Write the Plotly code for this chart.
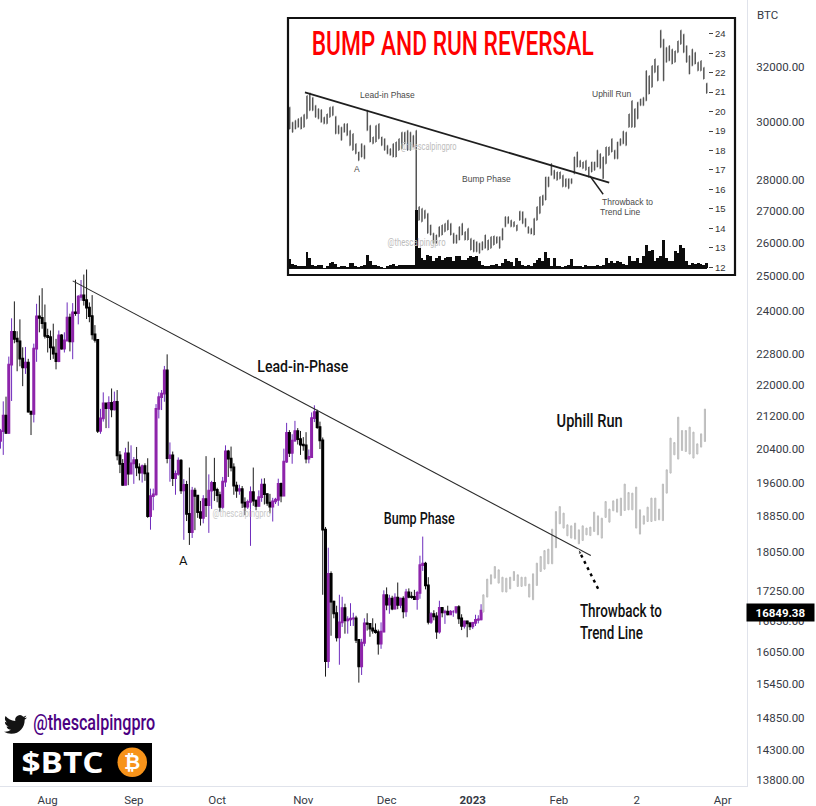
import base64
import json
import numpy as np
import pandas as pd
import plotly.graph_objects as go

# ---- BTC daily candles, mid-July 2022 to 4 January 2023 ----
closes = [
    20825, 21209, 20785, 22525, 23410, 23223, 23153, 22684, 22451, 22579, 21310, 21254, 22952, 23843, 23804, 23656, 23303,
    23268, 22987, 22818, 22622, 23312, 22954, 23175, 23810, 23149, 23954, 23935, 24403, 24441, 24305, 24094, 23854, 23342, 23191, 20834, 21140, 21516, 21399, 21529, 21368, 21559, 20241, 20037, 19550, 20285, 19811, 20049,
    20127, 19953, 19832, 19986, 19812, 18837, 19290, 19329, 21381, 21680, 21769, 22370, 20173, 20241, 19701, 19803, 20113, 19419, 19544, 18890, 18487, 19413, 19297, 18930, 18802, 19222, 19084, 19413, 19590, 19431,
    19312, 19044, 19623, 20336, 20160, 19955, 19531, 19417, 19446, 19141, 19051, 19157, 19382, 19185, 19067, 19268, 19550, 19334, 19139, 19053, 19172, 19207, 19567, 19300, 20090, 20780, 20300, 20595, 20825, 20630, 20495,
    20480, 20160, 20200, 21150, 21300, 20925, 20600, 18540, 15880, 17600, 17030, 16800, 16330, 16620, 16900, 16660, 16680, 16695, 16700, 16280, 15780, 16225, 16600, 16590, 16500, 16460, 16430, 16210, 16440, 17160,
    16970, 17090, 16890, 17110, 16965, 17090, 16840, 17220, 17130, 17125, 17085, 17210, 17780, 17810, 17360, 16630, 16780, 16740, 16440, 16905, 16820, 16830, 16780, 16830, 16830, 16920, 16700, 16550, 16640, 16600, 16540,
    16610, 16670, 16680, 16849.38,
]
highs = [
    20880, 21570, 21690, 22740, 23790, 24270, 23430, 23760, 22990, 23000, 22680, 21330, 23090, 24200, 24440, 24650, 24180,
    23500, 23450, 23640, 23220, 23450, 23350, 23400, 24240, 23920, 24220, 24900, 24450, 24890, 25050, 25200, 24240, 24450, 23600, 23200, 21380, 21800, 21520, 21700, 21900, 21820, 21860, 20340, 20150, 20420, 20570, 20480,
    20200, 20440, 20050, 20020, 20050, 20170, 19460, 19460, 21500, 21800, 21860, 22490, 22800, 20550, 20330, 19880, 20190, 20150, 19680, 19640, 19950, 19500, 19480, 19300, 19180, 19310, 20220, 19790, 19640, 20180,
    19480, 19390, 19730, 20480, 20370, 20450, 20050, 19620, 19550, 19520, 19260, 19210, 19510, 19950, 19210, 19420, 19690, 19700, 19350, 19340, 19250, 19250, 19690, 19600, 20400, 21030, 20850, 20750, 21080, 20900, 20830,
    20680, 20800, 20380, 21290, 21470, 21360, 21060, 20670, 18600, 18150, 17650, 17050, 16950, 17170, 17130, 16990, 16740, 17000, 16810, 16750, 16290, 16300, 16700, 16800, 16580, 16700, 16600, 16480, 16620, 17260,
    17320, 17170, 17150, 17200, 17420, 17110, 17140, 17290, 17300, 17230, 17270, 17250, 17980, 18390, 17850, 17530, 16820, 16860, 16820, 17050, 16900, 16870, 16950, 16860, 16860, 16930, 16960, 16780, 16650, 16650, 16630,
    16630, 16770, 16760, 16980,
]
lows = [
    20400, 20250, 20760, 20760, 21580, 23100, 22350, 22480, 21960, 22280, 21290, 20730, 21040, 22600, 23400, 23500, 23230,
    22850, 22650, 22680, 22400, 22590, 22930, 22850, 23160, 22880, 22670, 23860, 23620, 24290, 24150, 23770, 23680, 23200, 23120, 20780, 20760, 21060, 20900, 20900, 21170, 21340, 20120, 19820, 19530, 19550, 19540, 19800,
    19570, 19750, 19650, 19600, 19640, 18800, 18540, 18970, 19300, 21140, 21350, 21560, 20050, 19620, 19520, 19320, 19760, 19340, 18320, 18730, 18210, 18360, 18530, 18800, 18630, 18680, 18820, 18470, 19000, 19180,
    19150, 18930, 19000, 19500, 19730, 19860, 19320, 19250, 19320, 19020, 18860, 19000, 18190, 19070, 18970, 19060, 19160, 19100, 19070, 18900, 18720, 19110, 19070, 19150, 19300, 20060, 20200, 20040, 20570, 20500, 20250,
    20350, 20050, 20050, 20180, 21050, 20880, 20390, 17170, 15590, 15750, 16360, 16700, 16250, 15810, 16530, 16400, 16400, 16550, 16550, 16220, 15480, 15620, 16160, 16460, 16340, 16400, 16400, 16000, 16110, 16430,
    16860, 16790, 16860, 16880, 16880, 16900, 16700, 16730, 17100, 17090, 17070, 16870, 17090, 17660, 17280, 16580, 16590, 16660, 16300, 16400, 16720, 16590, 16760, 16780, 16730, 16790, 16590, 16470, 16500, 16330, 16470,
    16490, 16550, 16600, 16660,
]
first_open = 20590

# ---- Projected path: grey bars ahead of the last candle ----
proj_top = [
    17170, 17490, 17580, 17752, 17683, 17530, 17510, 17530, 17648, 17580, 17530, 17530, 17388, 17600, 17823, 17963, 18090, 18120, 18552, 18940,
    19053, 18906, 18647, 18625, 18684, 18537, 18625, 18575, 18597, 18928, 18845, 18794, 19167, 18996, 19182, 19221, 19244, 19565, 19372, 19357,
    19495, 18980, 18845, 19040, 19244, 19244, 18996, 19565, 19897, 20655, 20548, 21172, 20841, 20841, 20924, 20801, 20516, 20759, 21374,
]
proj_bottom = [
    16823, 17123, 17388, 17510, 17408, 17230, 17225, 17291, 17462, 17340, 17340, 17353, 17123, 17069, 17360, 17648, 17697, 17809, 17809, 18150,
    18670, 18575, 18407, 18357, 18335, 18234, 18305, 18428, 18412, 18500, 18428, 18357, 18810, 18706, 18958, 18928, 18852, 18965, 18980, 18980,
    18575, 18444, 18662, 18720, 18720, 18740, 18757, 18740, 19357, 19820, 20252, 20150, 20355, 20331, 20270, 20174, 20270, 20437, 20572,
]

# ---- Textbook pattern chart shown in the framed panel ----
textbook_high = [
    20.22, 19.45, 19.54, 19.63, 19.71, 19.85, 20.82, 20.94, 20.73, 20.31, 20.14, 20.09, 19.71, 19.88, 20.22, 20.26, 19.75, 19.28, 19.20, 19.37,
    19.37, 19.03, 18.86, 18.35, 17.92, 18.35, 18.26, 20.05, 19.28, 18.69, 19.28, 19.37, 18.69, 18.60, 18.26, 18.09, 18.35, 18.43, 18.60, 18.94,
    18.94, 19.03, 18.94, 18.77, 19.03, 15.11, 15.02, 14.93, 14.76, 14.17, 13.74, 13.65, 14.08, 14.17, 14.25, 14.42, 14.25, 13.74, 13.65, 14.08,
    14.25, 13.82, 13.99, 13.48, 13.40, 13.31, 13.23, 13.31, 13.65, 13.40, 13.57, 13.60, 13.57, 13.57, 13.99, 14.59, 14.59, 14.42, 14.34, 14.17,
    14.88, 14.85, 14.51, 14.08, 13.99, 14.51, 15.11, 15.62, 15.70, 16.64, 16.64, 17.32, 16.98, 16.90, 16.90, 16.73, 16.55, 16.55, 16.55, 17.66,
    17.92, 17.49, 17.41, 17.49, 17.15, 17.41, 17.41, 18.01, 17.83, 17.66, 18.18, 18.18, 18.60, 18.01, 18.43, 18.60, 18.99, 18.94, 19.88, 20.56,
    20.14, 20.48, 20.65, 20.73, 22.10, 21.84, 22.36, 22.70, 22.36, 24.18, 23.72, 23.29, 23.38, 23.21, 23.12, 23.63, 24.18, 23.98, 23.38, 22.87,
    23.21, 23.04, 22.53, 22.61, 22.27, 21.45,
]
textbook_low = [
    19.11, 18.94, 19.11, 19.20, 19.11, 19.20, 19.63, 20.05, 20.05, 19.71, 19.63, 19.45, 19.37, 19.37, 19.71, 19.80, 18.86, 18.86, 18.52, 18.94,
    18.77, 18.26, 18.01, 17.83, 17.49, 17.66, 17.58, 19.03, 18.43, 18.35, 18.43, 18.60, 18.26, 18.01, 17.83, 17.75, 17.66, 17.66, 18.01, 18.09,
    18.35, 18.01, 18.01, 18.18, 14.93, 14.42, 14.34, 14.51, 13.74, 13.65, 13.23, 13.23, 13.57, 13.65, 13.82, 13.91, 13.65, 13.23, 13.23, 13.40,
    13.65, 13.40, 13.40, 12.89, 12.80, 12.80, 12.72, 12.89, 12.97, 12.89, 12.97, 13.14, 13.23, 12.97, 13.40, 14.08, 14.25, 14.08, 14.08, 13.88,
    14.42, 14.25, 14.08, 13.74, 13.71, 13.65, 14.42, 14.76, 15.19, 15.45, 16.13, 16.73, 16.55, 16.47, 16.55, 16.13, 16.13, 16.04, 16.30, 16.81,
    17.15, 17.15, 17.07, 16.98, 16.64, 16.90, 16.98, 17.15, 17.07, 16.55, 17.32, 17.75, 17.92, 17.58, 17.58, 18.26, 18.35, 18.26, 19.20, 19.20,
    19.20, 19.63, 20.31, 20.31, 20.56, 20.90, 21.25, 22.01, 21.59, 23.29, 21.59, 22.53, 22.61, 22.44, 22.53, 23.04, 23.46, 23.04, 22.53, 21.93,
    22.36, 22.44, 22.10, 22.10, 21.67, 20.94,
]
textbook_volume = [
    9, 4, 3, 2, 2, 2, 16, 10, 3, 2, 3, 3, 0, 2, 5, 6, 4, 1, 2, 2,
    1, 5, 5, 2, 1, 2, 3, 13, 7, 3, 3, 2, 1, 0, 2, 3, 4, 2, 3, 3,
    3, 3, 3, 3, 58, 20, 10, 8, 13, 12, 7, 10, 12, 8, 10, 11, 11, 7, 12, 12,
    8, 8, 10, 12, 11, 12, 7, 3, 2, 2, 3, 3, 4, 2, 5, 9, 7, 6, 2, 10,
    7, 3, 2, 3, 2, 5, 8, 10, 7, 16, 10, 2, 10, 2, 2, 1, 2, 3, 9, 2,
    2, 2, 1, 3, 2, 2, 2, 3, 2, 3, 10, 5, 7, 5, 7, 6, 4, 3, 12, 7,
    7, 10, 5, 12, 23, 17, 18, 7, 10, 12, 28, 10, 7, 7, 17, 15, 23, 20, 7, 3,
    5, 4, 5, 4, 3, 5,
]
textbook_ticks = [24, 23, 22, 21, 20, 19, 18, 17, 16, 15, 14, 13, 12]

# ---- Axis labels ----
price_ticks = [32000, 30000, 28000, 27000, 26000, 25000, 24000, 22800, 22000, 21200, 20400,
               19600, 18850, 18050, 17250, 16650, 16050, 15450, 14850, 14300, 13800]
month_ticks = ["2022-08-01", "2022-09-01", "2022-10-01", "2022-11-01", "2022-12-01",
               "2023-01-01", "2023-02-01", "2023-03-01", "2023-04-01"]
month_labels = ["Aug", "Sep", "Oct", "Nov", "Dec", "<b>2023</b>", "Feb", "2", "Apr"]

# ---- Drawn lines on the two charts (date/price and session/price pairs) ----
trend_dates = ["2022-08-10 00:00", "2023-02-12 12:00"]
trend_prices = [24864, 17984]
throwback_dates = ["2023-02-15 03:00", "2023-02-07 22:00"]
throwback_prices = [17291, 18126]
textbook_trend_sessions = [5.3, 111.1]
textbook_trend_prices = [20.99, 16.35]
textbook_pointer_sessions = [104.4, 109.0]
textbook_pointer_prices = [16.69, 15.75]

W, H = 816, 806
PLOT_W, PLOT_H = 747, 786
HEADLINE = "Roboto, sans-serif"
SMALL = "Liberation Sans, sans-serif"
AXIS_FONT = dict(family="Roboto, sans-serif", size=11.5, color="#363A45")


def fx(px):
    return px / PLOT_W


def fy(py):
    return 1 - py / PLOT_H


def note(px, py, text, size, color="#111", family=HEADLINE, weight=500, **kw):
    return dict(x=fx(px), y=fy(py), xref="paper", yref="paper", text=text, showarrow=False,
                xanchor="center", yanchor="middle",
                font=dict(family=family, size=size, color=color, weight=weight), **kw)


dates = pd.date_range("2022-07-15", periods=len(closes), freq="D")
opens = [first_open] + closes[:-1]
body_top = np.maximum(opens, closes)
body_bottom = np.minimum(opens, closes)
proj_dates = pd.date_range("2023-01-04 20:00", periods=len(proj_top), freq="33h")
sessions = list(range(len(textbook_high)))

UP_WICK, UP_BODY = "#6F2DBD", "#8E24AA"
DOWN_WICK, DOWN_BODY = "#1A1A1A", "#000000"

fig = go.Figure()

# Wicks first, then a second pass that thickens just the candle bodies
fig.add_trace(go.Candlestick(
    x=dates, open=opens, high=highs, low=lows, close=closes,
    increasing=dict(line=dict(color=UP_WICK, width=1), fillcolor=UP_BODY),
    decreasing=dict(line=dict(color=DOWN_WICK, width=1), fillcolor=DOWN_BODY),
    whiskerwidth=0, showlegend=False, hoverinfo="skip",
))
fig.add_trace(go.Candlestick(
    x=dates, open=opens, high=body_top, low=body_bottom, close=closes,
    increasing=dict(line=dict(color=UP_BODY, width=1.8), fillcolor=UP_BODY),
    decreasing=dict(line=dict(color=DOWN_BODY, width=1.8), fillcolor=DOWN_BODY),
    whiskerwidth=0, showlegend=False, hoverinfo="skip",
))
fig.add_trace(go.Candlestick(
    x=proj_dates, open=proj_bottom, high=proj_top, low=proj_bottom, close=proj_top,
    increasing=dict(line=dict(color="#BDBDBD", width=1), fillcolor="#DADADA"),
    decreasing=dict(line=dict(color="#BDBDBD", width=1), fillcolor="#DADADA"),
    whiskerwidth=0, showlegend=False, hoverinfo="skip",
))
fig.add_trace(go.Scatter(
    x=trend_dates, y=trend_prices, mode="lines",
    line=dict(color="#2B2B2B", width=1.1), showlegend=False, hoverinfo="skip",
))
fig.add_trace(go.Scatter(
    x=throwback_dates, y=throwback_prices, mode="lines+markers",
    line=dict(color="#000000", width=2.4, dash="3px,4px"),
    marker=dict(symbol=["line-ew", "arrow"], size=[1, 6], angleref="previous", color="#000000"),
    showlegend=False, hoverinfo="skip",
))

# Framed textbook panel: bars, volume and its own trend lines
fig.add_trace(go.Ohlc(
    x=sessions, open=textbook_low, high=textbook_high, low=textbook_low, close=textbook_high,
    increasing=dict(line=dict(color="#555555", width=1.5)),
    decreasing=dict(line=dict(color="#555555", width=1.5)),
    tickwidth=0.2, xaxis="x2", yaxis="y2", showlegend=False, hoverinfo="skip",
))
fig.add_trace(go.Bar(
    x=sessions, y=textbook_volume, marker=dict(color="#0C0C0C", line=dict(width=0)), width=1,
    xaxis="x2", yaxis="y3", showlegend=False, hoverinfo="skip",
))
fig.add_trace(go.Scatter(
    x=textbook_trend_sessions, y=textbook_trend_prices, mode="lines",
    line=dict(color="#1F1F1F", width=1.8), xaxis="x2", yaxis="y2", showlegend=False, hoverinfo="skip",
))
fig.add_trace(go.Scatter(
    x=textbook_pointer_sessions, y=textbook_pointer_prices, mode="lines",
    line=dict(color="#1F1F1F", width=1.4), xaxis="x2", yaxis="y2", showlegend=False, hoverinfo="skip",
))

# Main time span and the log price window
px_per_day = 2.778
x_start = pd.Timestamp("2022-08-01") - pd.Timedelta(days=47.7 / px_per_day)
x_end = x_start + pd.Timedelta(days=PLOT_W / px_per_day)

bar_step = 2.876
panel_left, panel_axis, panel_right, panel_top, panel_bottom = 288, 708, 735, 18, 275

bird_svg = (
    '<svg xmlns="http://www.w3.org/2000/svg" viewBox="0 0 24 24"><path fill="#141414" d="M23.953 4.57a10 10 0 01-2.825.775 '
    '4.958 4.958 0 002.163-2.723c-.951.555-2.005.959-3.127 1.184a4.92 4.92 0 00-8.384 4.482C7.69 8.095 4.067 6.13 1.64 3.162a4.822 '
    '4.822 0 00-.666 2.475c0 1.71.87 3.213 2.188 4.096a4.904 4.904 0 01-2.228-.616v.06a4.923 4.923 0 003.946 4.827 4.996 4.996 0 '
    '01-2.212.085 4.936 4.936 0 004.604 3.417 9.867 9.867 0 01-6.102 2.105c-.39 0-.779-.023-1.17-.067a13.995 13.995 0 007.557 '
    '2.209c9.053 0 13.998-7.496 13.998-13.985 0-.21 0-.42-.015-.63A9.935 9.935 0 0024 4.59z"/></svg>'
)
bird_uri = "data:image/svg+xml;base64," + base64.b64encode(bird_svg.encode()).decode()

# Each entry: annotation, and the rendered width (px) the condensed labels are fitted to
labelled = [
    (note(302.5, 366, "Lead-in-Phase", 17), 91),
    (note(419.5, 518, "Bump Phase", 16), 71),
    (note(589, 421, "Uphill Run", 17.5), 66),
    (note(621, 610, "Throwback to", 18), 82),
    (note(611.5, 632, "Trend Line", 18), 63),
    (note(183, 560, "A", 13, weight=400), None),
    (note(241, 513, "@thescalpingpro", 10, color="#C9C9C9", weight=400), 58),
    (note(453, 43.5, "BUMP AND RUN REVERSAL", 33, color="#FF0000"), 282),
    (note(387, 95, "Lead-in Phase", 8.5, color="#4A4A4A", family=SMALL, weight=400), None),
    (note(357, 169, "A", 8.5, color="#4A4A4A", family=SMALL, weight=400), None),
    (note(486, 179, "Bump Phase", 8.5, color="#4A4A4A", family=SMALL, weight=400), None),
    (note(611, 94, "Uphill Run", 8.5, color="#4A4A4A", family=SMALL, weight=400), None),
    (note(627, 202, "Throwback to", 8.5, color="#4A4A4A", family=SMALL, weight=400), None),
    (note(620, 212, "Trend Line", 8.5, color="#4A4A4A", family=SMALL, weight=400), None),
    (note(428, 146, "@thescalpingpro", 10, color="#BDBDBD", weight=400), 56),
    (note(416, 242, "@thescalpingpro", 10, color="#BDBDBD", weight=400), 58),
    (note(94, 722, "@thescalpingpro", 22, color="#4B0082"), 122),
    (note(63, 762, "$BTC", 28, color="#FFFFFF", family="Open Sans, sans-serif", weight=700), 82),
    (note(132, 762, "<b>₿</b>", 20, color="#FFFFFF", family="DejaVu Sans, sans-serif"), None),
    (note(767, 15, "BTC", 11.5, color="#363A45", weight=400), None),
    (note(780, 612.5, "<b>16849.38</b>", 11.5, color="#FFFFFF",
          bgcolor="#000000", width=65, height=15), None),
]
annotations = [entry[0] for entry in labelled]
fitted = {str(i): entry[1] for i, entry in enumerate(labelled) if entry[1]}

shapes = [
    dict(type="rect", xref="paper", yref="paper", x0=fx(panel_left), x1=fx(panel_right),
         y0=fy(panel_bottom), y1=fy(panel_top), line=dict(color="#111111", width=2.2)),
    dict(type="line", xref="paper", yref="paper", x0=fx(panel_left), x1=fx(panel_axis - 1),
         y0=fy(268.5), y1=fy(268.5), line=dict(color="#111111", width=1)),
    dict(type="rect", xref="paper", yref="paper", x0=fx(13), x1=fx(152), y0=fy(782), y1=fy(743),
         fillcolor="#000000", line=dict(width=0)),
    dict(type="circle", xref="paper", yref="paper", x0=fx(117.5), x1=fx(147), y0=fy(777), y1=fy(747.5),
         fillcolor="#F7931A", line=dict(width=0)),
]

fig.update_layout(
    width=W, height=H,
    margin=dict(l=0, r=W - PLOT_W, t=0, b=H - PLOT_H, pad=0),
    paper_bgcolor="#FFFFFF", plot_bgcolor="rgba(0,0,0,0)",
    showlegend=False, bargap=0,
    xaxis=dict(
        domain=[0, 1], range=[x_start, x_end], type="date", automargin=False,
        tickmode="array", tickvals=month_ticks, ticktext=month_labels,
        showgrid=False, zeroline=False, rangeslider=dict(visible=False),
        showline=True, linecolor="#E0E3EB", linewidth=1,
        ticks="outside", ticklen=3, tickcolor="#FFFFFF", tickfont=AXIS_FONT,
    ),
    yaxis=dict(
        domain=[0, 1], type="log", side="right", automargin=False,
        range=[np.log10(13703), np.log10(34630)],
        tickmode="array", tickvals=price_ticks, ticktext=[f"{v:.2f}" for v in price_ticks],
        showgrid=False, zeroline=False,
        showline=True, linecolor="#E0E3EB", linewidth=1,
        ticks="outside", ticklen=6, tickcolor="#FFFFFF", tickfont=AXIS_FONT,
    ),
    xaxis2=dict(
        domain=[fx(panel_left), fx(panel_axis)], anchor="y2", visible=False, automargin=False,
        range=[(panel_left - 289.7) / bar_step, (panel_axis - 289.7) / bar_step],
        rangeslider=dict(visible=False),
    ),
    yaxis2=dict(
        domain=[fy(panel_bottom), fy(panel_top)], anchor="x2", side="right", automargin=False,
        range=[11.6, 24.81], tickmode="array", tickvals=textbook_ticks,
        showgrid=False, zeroline=False, showline=False,
        ticks="outside", ticklen=4, tickwidth=1, tickcolor="#444444",
        tickfont=dict(family=SMALL, size=9.5, color="#333333"),
    ),
    yaxis3=dict(
        domain=[fy(268.3), fy(198.3)], anchor="x2", range=[0, 70], visible=False, automargin=False,
    ),
    annotations=annotations,
    shapes=shapes,
    images=[dict(source=bird_uri, xref="paper", yref="paper", x=fx(4), y=fy(713), sizex=fx(23), sizey=23 / PLOT_H,
                 xanchor="left", yanchor="top", sizing="stretch", layer="above")],
)

# Condense the headline labels to their narrow set widths
condense = """
var fitted = %s;
document.querySelectorAll('g.annotation').forEach(function (g) {
    var width = fitted[g.getAttribute('data-index')];
    if (!width) { return; }
    var label = g.querySelector('text.annotation-text');
    label.setAttribute('textLength', width);
    label.setAttribute('lengthAdjust', 'spacingAndGlyphs');
});
""" % json.dumps(fitted)

fig.write_html("out.html", post_script=condense)
